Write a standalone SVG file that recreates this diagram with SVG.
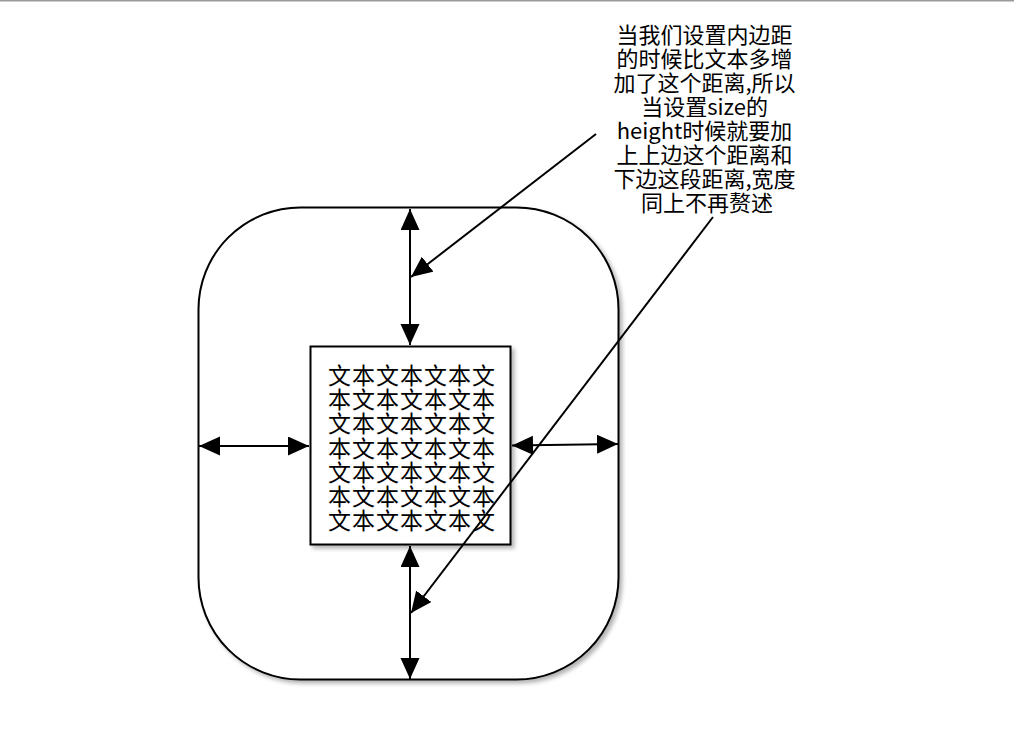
<svg xmlns="http://www.w3.org/2000/svg" width="1014" height="734" viewBox="0 0 1014 734">
  <style>
    .box { fill: #ffffff; stroke: #000000; stroke-width: 2; }
    .conn { stroke: #000000; stroke-width: 2; fill: none; }
    .grid { font-family: "Noto Sans CJK SC", "Noto Sans", sans-serif; font-size: 23px; letter-spacing: 1px; fill: #000000; }
    .note { font-family: "Noto Sans CJK SC", "Noto Sans", sans-serif; font-size: 22px; fill: #000000; text-anchor: middle; }
  </style>
  <defs>
    <marker id="arr" markerUnits="userSpaceOnUse" markerWidth="22" markerHeight="20" refX="21" refY="9.5" orient="auto-start-reverse">
      <path d="M0,0 L21,9.5 L0,19 z" fill="#000000"/>
    </marker>
    <filter id="shadow" x="-10%" y="-10%" width="130%" height="130%">
      <feGaussianBlur in="SourceAlpha" stdDeviation="2"/>
      <feOffset dx="3" dy="3" result="b"/>
      <feComponentTransfer><feFuncA type="linear" slope="0.3"/></feComponentTransfer>
      <feMerge><feMergeNode/><feMergeNode in="SourceGraphic"/></feMerge>
    </filter>
  </defs>
  <rect x="0" y="0" width="1014" height="734" fill="#ffffff"/>
  <rect x="0" y="0" width="1014" height="1.5" fill="#9a9a9a"/>

  <g id="outer">
    <rect class="box" x="198.5" y="207.5" width="420" height="472" rx="102" ry="102" filter="url(#shadow)"/>
  </g>

  <g id="inner">
    <rect class="box" x="310.5" y="346.5" width="200" height="198" filter="url(#shadow)"/>
    <text class="grid">
      <tspan x="328" y="384">文本文本文本文</tspan>
      <tspan x="328" y="408.2">本文本文本文本</tspan>
      <tspan x="328" y="432.4">文本文本文本文</tspan>
      <tspan x="328" y="456.6">本文本文本文本</tspan>
      <tspan x="328" y="480.8">文本文本文本文</tspan>
      <tspan x="328" y="505">本文本文本文本</tspan>
      <tspan x="328" y="529.2">文本文本文本文</tspan>
    </text>
  </g>

  <g id="note">
    <text class="note">
      <tspan x="707" y="43">当我们设置内边距</tspan>
      <tspan x="707" y="67">的时候比文本多增</tspan>
      <tspan x="707" y="91">加了这个距离,所以</tspan>
      <tspan x="707" y="115">当设置size的</tspan>
      <tspan x="707" y="139">height时候就要加</tspan>
      <tspan x="707" y="163">上上边这个距离和</tspan>
      <tspan x="707" y="187">下边这段距离,宽度</tspan>
      <tspan x="707" y="211">同上不再赘述</tspan>
    </text>
  </g>

  <g id="connectors">
    <line class="conn" x1="410" y1="209" x2="410" y2="345" marker-start="url(#arr)" marker-end="url(#arr)"/>
    <line class="conn" x1="410" y1="546" x2="410" y2="679" marker-start="url(#arr)" marker-end="url(#arr)"/>
    <line class="conn" x1="199" y1="446" x2="309" y2="446" marker-start="url(#arr)" marker-end="url(#arr)"/>
    <line class="conn" x1="512" y1="445.5" x2="618" y2="444" marker-start="url(#arr)" marker-end="url(#arr)"/>
    <line class="conn" x1="596" y1="134" x2="411" y2="277" marker-end="url(#arr)"/>
    <line class="conn" x1="713" y1="217" x2="411" y2="613" marker-end="url(#arr)"/>
  </g>
</svg>
